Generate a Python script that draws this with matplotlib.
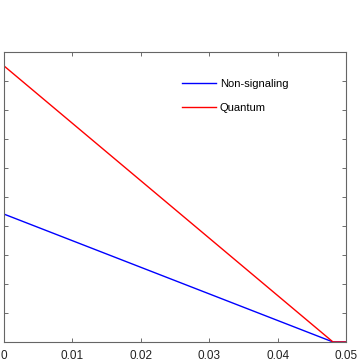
import matplotlib.pyplot as plt

plt.rcParams['font.family'] = ['Liberation Sans', 'DejaVu Sans']

x = [0, 0.0481, 0.05]
nonsig = [0.441, 0, 0]
quantum = [0.952, 0, 0]
xticks = [0, 0.01, 0.02, 0.03, 0.04, 0.05]
xlabels = ['0', '0.01', '0.02', '0.03', '0.04', '0.05']
yticks = [i / 10 for i in range(11)]

fig = plt.figure(figsize=(3.62, 3.62), dpi=100)
ax = fig.add_axes([4 / 362, 20 / 362, 342 / 362, 290 / 362])

ax.plot(x, nonsig, color='#0000ff', lw=1.0, label='Non-signaling')
ax.plot(x, quantum, color='#ff0000', lw=1.0, label='Quantum')

ax.set_xlim(0, 0.05)
ax.set_ylim(0, 1)
ax.set_xticks(xticks)
ax.set_xticklabels(xlabels)
ax.set_yticks(yticks)
ax.set_yticklabels([])
ax.tick_params(direction='in', length=3, width=0.6, colors='#555555',
               top=True, right=True, labelsize=8.5, pad=6)
ax.tick_params(axis='x', labelcolor='#222222')
for s in ax.spines.values():
    s.set_color('#666666')
    s.set_linewidth(0.8)

ax.legend(loc='upper left', bbox_to_anchor=(0.49, 0.943), frameon=False,
          fontsize=8, handlelength=3.1, handletextpad=0.35, labelspacing=1.3)

fig.savefig('out.png', dpi=100)
